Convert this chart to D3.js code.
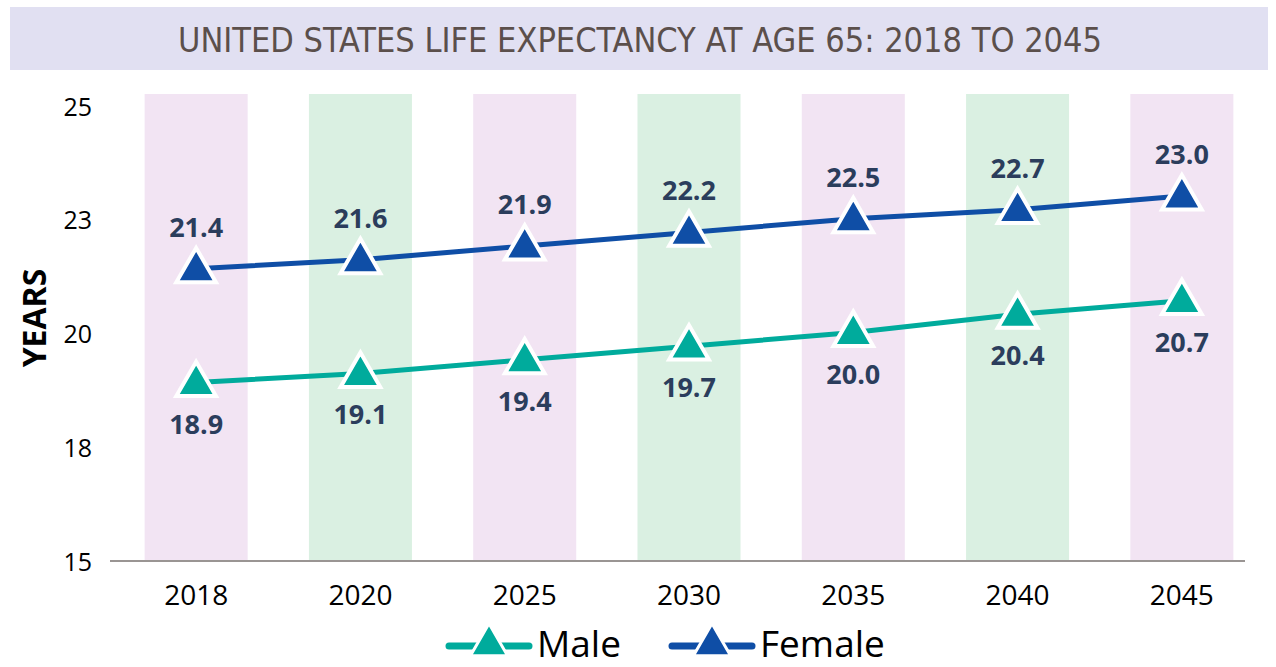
<!DOCTYPE html>
<html>
<head>
<meta charset="utf-8">
<script src="https://cdn.jsdelivr.net/npm/d3@7"></script>
<style>
  body { margin: 0; background: #fff; }
  svg { display: block; font-family: "Open Sans", sans-serif; }
</style>
</head>
<body>
<svg id="chart" width="1276" height="667"></svg>
<script>
var years = ["2018", "2020", "2025", "2030", "2035", "2040", "2045"];
var male = [18.9, 19.1, 19.4, 19.7, 20.0, 20.4, 20.7];
var female = [21.4, 21.6, 21.9, 22.2, 22.5, 22.7, 23.0];
var yTicks = [15, 17.5, 20, 22.5, 25];
var bandFills = ["#f2e4f3", "#daf0e2"];

var maleColor = "#00ab9c", femaleColor = "#0f4ea6", labelColor = "#2b3d5c";

var svg = d3.select("#chart");

// title band
svg.append("rect")
  .attr("x", 10).attr("y", 7).attr("width", 1258).attr("height", 63)
  .attr("fill", "#e1e0f2");
svg.append("text")
  .attr("x", 640).attr("y", 52)
  .attr("text-anchor", "middle")
  .attr("fill", "#5b4f4b")
  .style("font-family", "'Liberation Sans Narrow', 'DejaVu Sans Condensed', sans-serif")
  .style("font-size", "34px")
  .text("UNITED STATES LIFE EXPECTANCY AT AGE 65: 2018 TO 2045");

var x = d3.scaleBand()
  .domain(years)
  .range([114, 1264])
  .paddingInner(0.373)
  .paddingOuter(0.1865);

var y = d3.scaleLinear()
  .domain([15, 25])
  .range([560, 105]);

var g = svg.append("g");

// alternating column bands
g.selectAll("rect.col")
  .data(years)
  .enter()
  .append("rect")
    .attr("class", "col")
    .attr("x", function(d) { return x(d); })
    .attr("y", 94)
    .attr("width", x.bandwidth())
    .attr("height", y(15) - 94)
    .attr("fill", function(d, i) { return bandFills[i % 2]; });

// y axis (labels only)
g.append("g")
    .attr("transform", "translate(92,2)")
    .call(d3.axisLeft(y).tickValues(yTicks).tickFormat(d3.format(".0f")).tickSize(0).tickPadding(0))
    .call(function(a) { a.select(".domain").remove(); })
    .selectAll("text")
      .attr("fill", "#000")
      .style("font-size", "25px")
      .style("font-family", "'Open Sans', sans-serif");

// x axis
var xa = g.append("g")
    .attr("transform", "translate(0," + (y(15) + 1) + ")")
    .call(d3.axisBottom(x).tickSize(0).tickPadding(24));
xa.select(".domain").remove();
xa.append("line")
    .attr("x1", 110).attr("x2", 1245)
    .attr("stroke", "#9a9593").attr("stroke-width", 2);
xa.selectAll("text")
    .attr("fill", "#000")
    .style("font-size", "28px")
    .style("font-family", "'Open Sans', sans-serif");

svg.append("text")
  .attr("transform", "translate(46,318) rotate(-90)")
  .attr("text-anchor", "middle")
  .attr("fill", "#000")
  .style("font-size", "32px")
  .style("font-weight", "bold")
  .text("YEARS");

var line = d3.line()
  .x(function(d, i) { return x(years[i]) + x.bandwidth() / 2; })
  .y(function(d) { return y(d); });

var tri = d3.symbol().type(d3.symbolTriangle);

function drawSeries(vals, color, above) {
  var s = g.append("g");
  s.append("path")
    .datum(vals)
    .attr("fill", "none")
    .attr("stroke", color)
    .attr("stroke-width", 5)
    .attr("d", line);
  s.selectAll("path.mk")
    .data(vals)
    .enter()
    .append("path")
      .attr("class", "mk")
      .attr("transform", function(d, i) { return "translate(" + (x(years[i]) + x.bandwidth() / 2) + "," + (y(d) + 2) + ")"; })
      .attr("d", tri.size(680))
      .attr("fill", color)
      .attr("stroke", "#fff")
      .attr("stroke-width", 4)
      .attr("stroke-linejoin", "miter");
  s.selectAll("text")
    .data(vals)
    .enter()
    .append("text")
      .attr("x", function(d, i) { return x(years[i]) + x.bandwidth() / 2; })
      .attr("y", function(d) { return above ? y(d) - 32 : y(d) + 51; })
      .attr("text-anchor", "middle")
      .attr("fill", labelColor)
      .style("font-size", "27px")
      .style("font-weight", "bold")
      .text(function(d) { return d3.format(".1f")(d); });
}

drawSeries(male, maleColor, false);
drawSeries(female, femaleColor, true);

// legend
var legend = [
  {name: "Male", color: maleColor, x: 447},
  {name: "Female", color: femaleColor, x: 670}
];
var lg = svg.selectAll("g.leg")
  .data(legend)
  .enter()
  .append("g")
    .attr("class", "leg")
    .attr("transform", function(d) { return "translate(" + d.x + ",646)"; });
lg.append("line")
  .attr("x1", 2).attr("x2", 82)
  .attr("stroke", function(d) { return d.color; })
  .attr("stroke-width", 7)
  .attr("stroke-linecap", "round");
lg.append("path")
  .attr("transform", "translate(42,-1)")
  .attr("d", tri.size(600))
  .attr("fill", function(d) { return d.color; })
  .attr("stroke", "#fff")
  .attr("stroke-width", 3);
lg.append("text")
  .attr("x", 90).attr("y", 11)
  .attr("fill", "#000")
  .style("font-size", "37px")
  .text(function(d) { return d.name; });
</script>
</body>
</html>
